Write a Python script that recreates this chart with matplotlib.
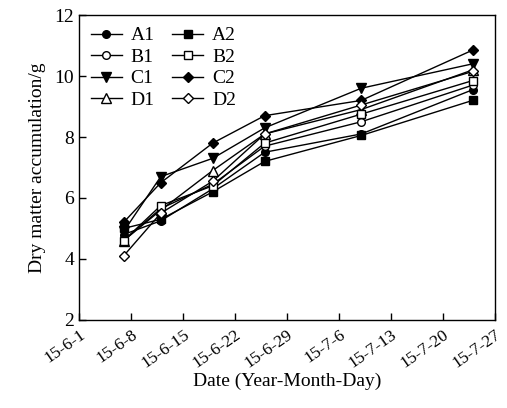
import numpy as np
import matplotlib.pyplot as plt
import matplotlib.dates as mdates

plt.rcParams['font.family'] = ['Liberation Serif', 'DejaVu Serif']

# sampling dates
dates = np.array(['2015-06-07', '2015-06-12', '2015-06-19', '2015-06-26',
                  '2015-07-09', '2015-07-24'], dtype='datetime64[D]')

# dry matter accumulation (g)
A1 = [4.8, 5.25, 6.3, 7.5, 8.1, 9.55]
A2 = [5.0, 5.3, 6.2, 7.2, 8.05, 9.2]
B1 = [4.6, 5.65, 6.45, 7.7, 8.5, 9.7]
B2 = [4.6, 5.75, 6.4, 7.8, 8.75, 9.85]
C1 = [4.9, 6.7, 7.3, 8.3, 9.6, 10.4]
C2 = [5.2, 6.5, 7.8, 8.7, 9.2, 10.85]
D1 = [4.6, 5.6, 6.9, 8.1, 8.9, 10.2]
D2 = [4.1, 5.5, 6.55, 8.1, 9.05, 10.15]

tick_dates = np.arange(np.datetime64('2015-06-01'), np.datetime64('2015-07-28'), 7)
tick_labels = ['15-6-1', '15-6-8', '15-6-15', '15-6-22', '15-6-29',
               '15-7-6', '15-7-13', '15-7-20', '15-7-27']

fig = plt.figure(figsize=(5.07, 4.08), dpi=100)
ax = fig.add_axes([0.156, 0.216, 0.820, 0.747])

x = mdates.date2num(dates.astype('datetime64[s]').astype(object))
ms = 5.5
ax.plot(x, A1, 'k-', marker='o', ms=ms, lw=1, label='A1')
ax.plot(x, B1, 'k-', marker='o', ms=ms, lw=1, mfc='white', label='B1')
ax.plot(x, C1, 'k-', marker='v', ms=ms+1, lw=1, label='C1')
ax.plot(x, D1, 'k-', marker='^', ms=ms+1, lw=1, mfc='white', label='D1')
ax.plot(x, A2, 'k-', marker='s', ms=ms, lw=1, label='A2')
ax.plot(x, B2, 'k-', marker='s', ms=ms, lw=1, mfc='white', label='B2')
ax.plot(x, C2, 'k-', marker='D', ms=ms, lw=1, label='C2')
ax.plot(x, D2, 'k-', marker='D', ms=ms, lw=1, mfc='white', label='D2')

tx = mdates.date2num(tick_dates.astype('datetime64[s]').astype(object))
ax.set_xlim(tx[0], tx[-1])
ax.set_xticks(tx)
ax.set_xticklabels(tick_labels, rotation=35, ha='right', rotation_mode='anchor')
ax.set_ylim(2, 12)
ax.set_yticks([2, 4, 6, 8, 10, 12])
ax.tick_params(direction='in', length=5, labelsize=14, width=1)
ax.tick_params(axis='x', pad=5, labelsize=12.5)
for s in ax.spines.values():
    s.set_linewidth(1)

ax.set_xlabel('Date (Year-Month-Day)', fontsize=14, labelpad=1)
ax.set_ylabel('Dry matter accumulation/g', fontsize=14, labelpad=6)

ax.legend(ncol=2, loc='upper left', frameon=False, fontsize=14,
          handlelength=1.6, handletextpad=0.45, columnspacing=0.9,
          labelspacing=0.2, borderaxespad=0.2)

fig.savefig('out.png', dpi=100)
